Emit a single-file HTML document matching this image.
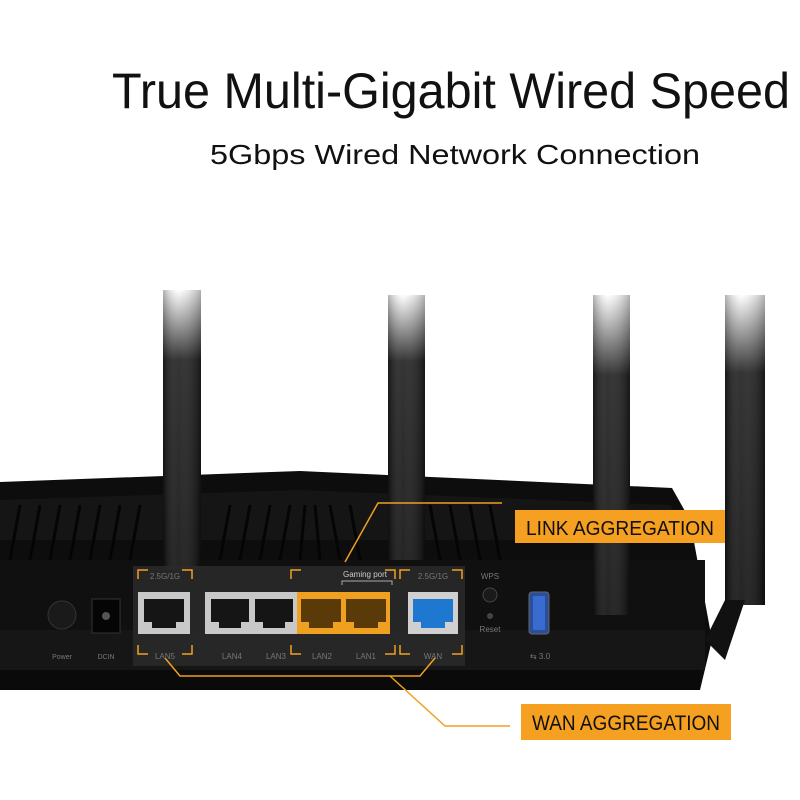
<!DOCTYPE html>
<html><head><style>
html,body{margin:0;padding:0;background:#fff;width:800px;height:800px;overflow:hidden}
</style></head><body>
<svg width="800" height="800" viewBox="0 0 800 800" xmlns="http://www.w3.org/2000/svg">
<defs>
<linearGradient id="ant" x1="0" y1="0" x2="0" y2="1">
<stop offset="0" stop-color="#fff"/><stop offset="0.25" stop-color="#222"/><stop offset="1" stop-color="#111"/>
</linearGradient>
<linearGradient id="antx" x1="0" y1="0" x2="1" y2="0">
<stop offset="0" stop-color="#000" stop-opacity="0.3"/><stop offset="0.4" stop-color="#fff" stop-opacity="0.08"/><stop offset="1" stop-color="#000" stop-opacity="0.3"/>
</linearGradient>
</defs>
<rect width="800" height="800" fill="#fff"/>
<text x="112" y="108" font-family="Liberation Sans, sans-serif" font-size="50" fill="#111" textLength="678" lengthAdjust="spacingAndGlyphs">True Multi-Gigabit Wired Speed</text>
<text x="210" y="164" font-family="Liberation Sans, sans-serif" font-size="28" fill="#111" textLength="490" lengthAdjust="spacingAndGlyphs">5Gbps Wired Network Connection</text>

<!-- body -->
<path d="M0 482 L300 471 L672 488 L690 520 L712 640 L700 690 L0 690 Z" fill="#0d0d0d"/>
<path d="M0 500 L300 490 L670 505 L690 540 L0 540 Z" fill="#151515"/>
<g stroke="#050505" stroke-width="3">
<path d="M10 560 L20 505 M30 560 L40 505 M50 560 L60 505 M70 560 L80 505 M90 560 L100 505 M110 560 L120 505 M130 560 L140 505 M220 560 L230 505 M240 560 L250 505 M260 560 L270 505 M280 560 L290 505 M300 560 L305 505 M320 560 L315 505 M340 560 L330 505 M360 560 L350 505 M440 560 L430 505 M460 560 L450 505 M480 560 L470 505 M500 560 L490 505"/>
</g>
<rect x="0" y="560" width="705" height="70" fill="#101010"/>
<rect x="0" y="630" width="705" height="40" fill="#161616"/>
<rect x="0" y="670" width="700" height="20" fill="#0a0a0a"/>

<!-- antennas -->
<rect x="163" y="290" width="38" height="280" fill="url(#ant)"/>
<rect x="388" y="295" width="37" height="265" fill="url(#ant)"/>
<rect x="593" y="295" width="37" height="320" fill="url(#ant)"/>
<rect x="725" y="295" width="40" height="310" fill="url(#ant)"/>
<rect x="163" y="290" width="38" height="280" fill="url(#antx)"/>
<rect x="388" y="295" width="37" height="265" fill="url(#antx)"/>
<rect x="593" y="295" width="37" height="320" fill="url(#antx)"/>
<rect x="725" y="295" width="40" height="310" fill="url(#antx)"/>
<path d="M705 640 L725 600 L745 600 L725 660 Z" fill="#111"/>

<!-- panel -->
<rect x="133" y="566" width="332" height="100" fill="#2a2a2a" opacity="0.85"/>
<g fill="none" stroke="#f0a020" stroke-width="1.5">
<path d="M138 579 v-9 h10 M182 570 h10 v9"/>
<path d="M138 645 v9 h10 M182 654 h10 v-9"/>
<path d="M291 579 v-9 h10 M385 570 h10 v9"/>
<path d="M291 645 v9 h10 M385 654 h10 v-9"/>
<path d="M400 579 v-9 h10 M452 570 h10 v9"/>
<path d="M400 645 v9 h10 M452 654 h10 v-9"/>
<path d="M165 658 L180 676 L420 676 L435 658"/>
<path d="M390 676 L445 726 L510 726"/>
<path d="M345 562 L378 503 L502 503"/>
</g>
<path d="M342 585 v-4 h50 v4" stroke="#aaa" fill="none" stroke-width="1"/>
<g font-family="Liberation Sans, sans-serif" font-size="8" fill="#777" text-anchor="middle">
<text x="165" y="579">2.5G/1G</text><text x="433" y="579">2.5G/1G</text>
<text x="365" y="577" fill="#ccc">Gaming port</text>
<text x="490" y="579">WPS</text><text x="490" y="632">Reset</text>
<text x="62" y="659" font-size="7">Power</text><text x="106" y="659" font-size="7">DCIN</text>
<text x="165" y="659">LAN5</text><text x="232" y="659">LAN4</text><text x="276" y="659">LAN3</text>
<text x="322" y="659">LAN2</text><text x="366" y="659">LAN1</text><text x="433" y="659">WAN</text>
<text x="540" y="659">⇆ 3.0</text>
</g>
<circle cx="62" cy="615" r="14" fill="#1a1a1a" stroke="#333"/>
<rect x="92" y="599" width="28" height="34" fill="#050505" stroke="#333"/>
<circle cx="106" cy="616" r="4" fill="#555"/>
<circle cx="490" cy="595" r="7" fill="#1a1a1a" stroke="#444"/>
<circle cx="490" cy="616" r="3" fill="#444"/>
<rect x="529" y="592" width="20" height="42" rx="3" fill="#2a4e9a" stroke="#666"/>
<rect x="533" y="596" width="12" height="34" fill="#3a6cd0"/>
<!-- ports -->
<rect x="138" y="592" width="52" height="42" fill="#c8c8c8"/>
<rect x="205" y="592" width="185" height="42" fill="#c8c8c8"/>
<rect x="297" y="592" width="93" height="42" fill="#f0a020"/>
<rect x="408" y="592" width="50" height="42" fill="#d0d0d0"/>
<g fill="#151515">
<path d="M144 599 h40 v23 h-8 v6 h-24 v-6 h-8 z"/>
<path d="M211 599 h38 v23 h-8 v6 h-22 v-6 h-8 z"/>
<path d="M255 599 h38 v23 h-8 v6 h-22 v-6 h-8 z"/>
</g>
<g fill="#5a3a08">
<path d="M301 599 h40 v23 h-8 v6 h-24 v-6 h-8 z"/>
<path d="M346 599 h40 v23 h-8 v6 h-24 v-6 h-8 z"/>
</g>
<path d="M413 599 h40 v23 h-8 v6 h-24 v-6 h-8 z" fill="#1e78d0"/>

<!-- labels -->
<rect x="515" y="510" width="210" height="33" fill="#f5a020"/>
<text x="620" y="535" text-anchor="middle" font-family="Liberation Sans, sans-serif" font-size="20" fill="#111" textLength="188" lengthAdjust="spacingAndGlyphs">LINK AGGREGATION</text>
<rect x="521" y="704" width="210" height="36" fill="#f5a020"/>
<text x="626" y="730" text-anchor="middle" font-family="Liberation Sans, sans-serif" font-size="21" fill="#111" textLength="188" lengthAdjust="spacingAndGlyphs">WAN AGGREGATION</text>
</svg>
</body></html>
